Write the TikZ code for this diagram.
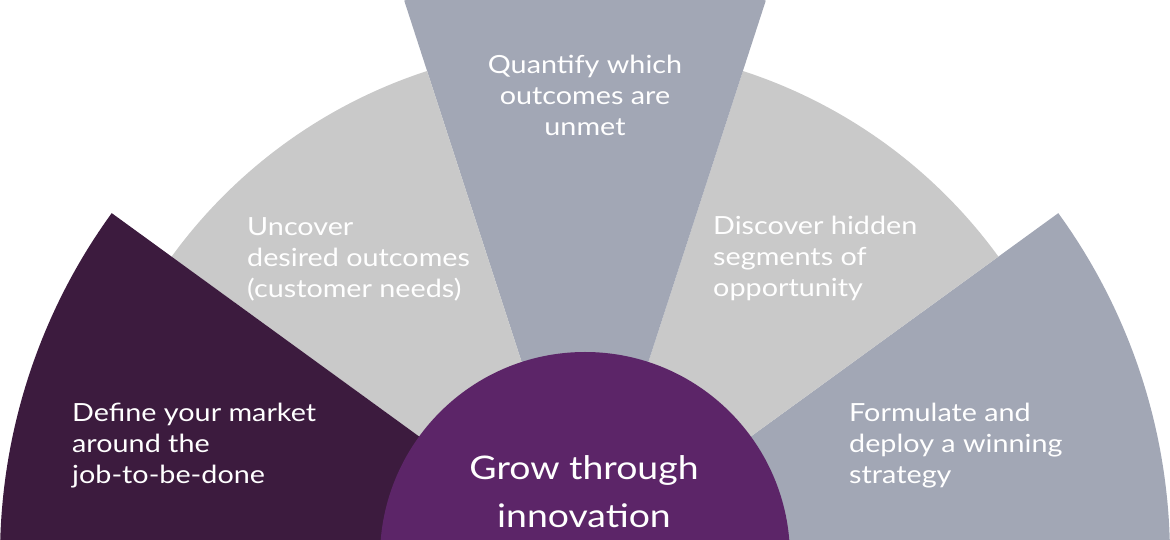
\documentclass[tikz,border=0pt]{standalone}
\usepackage{fontspec}
\setmainfont{Lato}[FakeStretch=1.15]
\definecolor{darkplum}{RGB}{60,27,62}
\definecolor{midplum}{RGB}{92,37,104}
\definecolor{slate}{RGB}{162,167,181}
\definecolor{lightgrey}{RGB}{201,201,201}
\tikzset{
  steplabel/.style={text=white, inner sep=0pt, align=left, anchor=base west,
    font=\fontsize{25}{31}\selectfont},
  centrelabel/.style={text=white, inner sep=0pt, align=center, anchor=base,
    font=\fontsize{32.5}{48}\selectfont},
}
\begin{document}
\begin{tikzpicture}[x=1pt,y=1pt]
\useasboundingbox (0,0) rectangle (1170,540);
\clip (0,0) rectangle (1170,540);
\coordinate (O) at (585,-17);
% outer sectors
\fill[slate] (O) -- ++(0:585pt) arc[start angle=0,end angle=36,radius=585pt] -- cycle;
\fill[lightgrey] (O) -- ++(36:511pt) arc[start angle=36,end angle=72,radius=511pt] -- cycle;
\fill[slate] (O) -- ++(72:585pt) arc[start angle=72,end angle=108,radius=585pt] -- cycle;
\fill[lightgrey] (O) -- ++(108:511pt) arc[start angle=108,end angle=144,radius=511pt] -- cycle;
\fill[darkplum] (O) -- ++(144:585pt) arc[start angle=144,end angle=180,radius=585pt] -- cycle;
% centre
\fill[midplum] (O) circle[radius=205pt];
% labels
\node[steplabel] (define) at (72,56) {Define your market\\around the\\job-to-be-done};
\node[steplabel] (uncover) at (247,242) {Uncover\\desired outcomes\\(customer needs)};
\node[steplabel, align=center, anchor=base] (quantify) at (585,404.5) {Quantify which\\outcomes are\\unmet};
\node[steplabel] (discover) at (713,243) {Discover hidden\\segments of\\opportunity};
\node[steplabel] (formulate) at (849,56) {Formulate and\\deploy a winning\\strategy};
\node[centrelabel] (grow) at (584,12) {Grow through\\innovation};
\end{tikzpicture}
\end{document}
